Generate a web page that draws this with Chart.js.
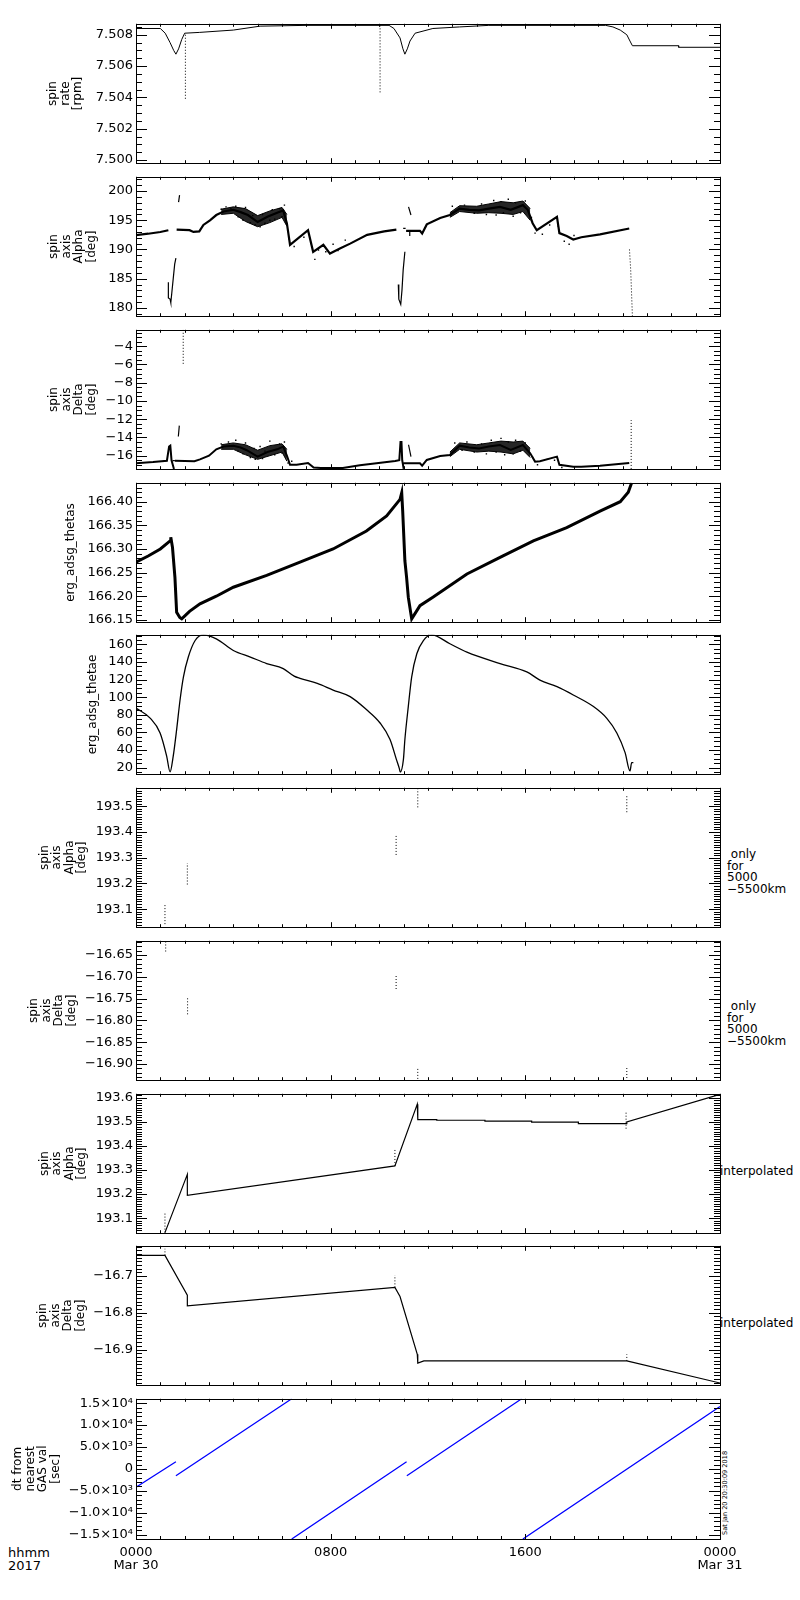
<!DOCTYPE html>
<html>
<head>
<meta charset="utf-8">
<script src="https://cdn.jsdelivr.net/npm/chart.js@4/dist/chart.umd.min.js"></script>
<style>
  body { margin: 0; background: #fff; width: 800px; height: 1600px; position: relative; font-family: "DejaVu Sans", sans-serif; color: #000; }
  canvas { position: absolute; left: 0; }
  .note { position: absolute; font-size: 12px; line-height: 11.7px; white-space: pre; }
  .stamp { position: absolute; font-size: 6.6px; white-space: pre; transform: rotate(-90deg); transform-origin: left top; }
</style>
</head>
<body>
<div class="note" style="left:8px;top:1546px;font-size:13px;line-height:13px">hhmm
2017</div>
<div class="note" style="left:727px;top:849px"> only
for
5000
−5500km</div>
<div class="note" style="left:727px;top:1001px"> only
for
5000
−5500km</div>
<div class="note" style="left:720px;top:1166px">interpolated</div>
<div class="note" style="left:720px;top:1318px">interpolated</div>
<div class="stamp" style="left:721px;top:1535px">Sat Jan 20 20:30:09 2018</div>

<script>
// values, x = hours since 0000 Mar 30 2017

const hourTicks = [0, 8, 16, 24];
const hourLabels = [['0000', 'Mar 30'], '0800', '1600', ['0000', 'Mar 31']];

// spin rate [rpm]
const rateMain = [[0,7.5084],[1.0,7.5084],[1.2,7.5081],[1.4,7.5075],[1.55,7.5070],[1.64,7.50676],[1.75,7.5071],[1.88,7.5077],[2.0,7.5081],
  [2.6,7.50815],[4,7.5083],[5.1,7.50855],[7,7.5086],[10.4,7.5086],[10.6,7.5084],[10.85,7.5078],[10.97,7.5071],[11.05,7.50676],
  [11.15,7.5071],[11.26,7.5076],[11.47,7.5081],[12.2,7.5084],[13.3,7.5085],[14.5,7.5086],[19.3,7.5086],[19.6,7.5085],[19.9,7.5083],
  [20.17,7.5080],[20.3,7.5076],[20.4,7.5073],[22.3,7.5073],[22.3,7.5072],[24,7.5072]];
const rateSpikes = [[[2.03,7.5080],[2.03,7.5039]], [[10.03,7.5086],[10.03,7.5042]]];

// spin axis alpha [deg]
const alphaMain = [
  [[0,192.45],[0.5,192.7],[1.0,193.0],[1.33,193.3]],
  [[1.67,193.4],[2.2,193.3],[2.36,193.0],[2.6,193.1],[2.77,194.2],[3.04,195.0],[3.3,195.9],[3.6,196.5],[4.0,196.8],[4.3,196.4],
   [4.6,195.9],[5.0,194.7],[5.4,195.6],[5.8,196.3],[6.05,196.7],[6.2,194.5],[6.33,190.8],[7.07,193.3],[7.28,189.6],[7.7,190.8],
   [7.97,189.3],[8.4,190.2],[8.8,191.0],[9.5,192.5],[10.2,193.1],[10.7,193.4]],
  [[11.1,193.2],[11.67,193.2],[11.76,192.75],[11.95,194.3],[12.5,195.4],[12.9,195.9],[13.3,197.0],[13.7,196.8],[14.1,196.7],
   [14.5,197.0],[14.96,197.3],[15.4,196.8],[15.9,197.6],[16.1,196.8],[16.3,194.5],[16.47,193.3],[17.3,195.6],[17.4,192.8],
   [17.7,192.3],[17.97,191.7],[18.3,192.1],[19.07,192.6],[20.27,193.6]]
];
// spread of the noisy stretches (upper / lower edge)
const alphaBandHi = [[[3.5,196.9],[4.0,197.3],[4.5,197.0],[5.0,195.8],[5.5,196.6],[6.0,197.2],[6.2,196.0]],
  [[12.9,196.3],[13.3,197.5],[14.0,197.4],[14.5,197.8],[15.0,198.2],[15.5,198.0],[15.9,198.3],[16.2,197.0]]];
const alphaBandLo = [[[3.5,196.0],[4.0,196.2],[4.5,194.8],[5.0,193.9],[5.5,194.6],[6.0,195.5],[6.2,194.0]],
  [[12.9,195.5],[13.3,196.5],[14.0,196.2],[14.5,196.3],[15.0,196.2],[15.5,196.0],[15.9,196.5],[16.2,195.0]]];
const alphaNoise = [[3.5,196.9],[3.7,197.3],[3.9,197.0],[4.1,197.4],[4.2,195.6],[4.4,195.0],[4.5,197.2],[4.7,194.6],[4.8,195.8],
  [4.9,194.2],[5.1,193.9],[5.2,196.0],[5.3,194.5],[5.5,195.0],[5.6,196.8],[5.7,195.2],[5.9,197.0],[6.0,195.6],[6.1,197.6],
  [6.25,193.2],[6.3,191.8],[6.5,190.5],[6.9,192.1],[7.2,191.0],[7.35,188.3],[7.5,189.9],[7.8,189.6],[8.1,190.9],[8.3,189.8],
  [8.6,191.6],[13.0,197.4],[13.5,197.6],[13.9,196.2],[14.2,197.8],[14.4,196.0],[14.7,198.4],[14.8,195.9],[15.0,198.2],
  [15.1,196.3],[15.3,198.6],[15.5,195.7],[15.6,198.0],[15.8,196.3],[16.0,198.3],[16.25,195.5],[16.4,192.8],[16.7,192.6],
  [17.0,194.2],[17.35,194.0],[17.6,191.4],[17.8,190.9],[18.0,192.4]];
const alphaBits = [
  [[1.33,184.4],[1.33,181.7],[1.4,181.5],[1.43,180.9],[1.47,182.5],[1.53,185],[1.59,187.5],[1.64,188.5]],
  [[10.78,184],[10.8,181.5],[10.88,180.6],[10.93,183],[10.98,186.5],[11.05,189.6]],
  [[10.98,193.6],[11.08,193.6]],
  [[1.75,198.1],[1.79,199.3]],
  [[11.2,197.3],[11.3,195.9]],
  [[11.25,193.2],[11.25,192.3]]
];
const alphaTail = [[[20.28,190.0],[20.33,186.5],[20.37,182],[20.4,178.6]]];

// spin axis delta [deg]
const deltaMain = [
  [[0,-16.83],[0.7,-16.7],[1.27,-16.55],[1.36,-15.0],[1.41,-14.9],[1.46,-16.5],[1.56,-17.45]],
  [[1.6,-16.55],[2.4,-16.6],[2.63,-16.4],[3.0,-16.0],[3.3,-15.3],[3.6,-15.0],[4.0,-14.9],[4.3,-15.1],[4.55,-15.4],[5.0,-16.1],
   [5.4,-15.6],[5.8,-15.3],[6.05,-15.0],[6.2,-16.0],[6.33,-17.0],[6.6,-17.0],[7.07,-16.8],[7.3,-17.3],[7.6,-17.35],[8.5,-17.35],
   [9.2,-17.05],[10.65,-16.58],[10.82,-16.5],[10.87,-14.5],[10.91,-14.5],[10.94,-16.5],[11.0,-17.45]],
  [[11.0,-16.83],[11.67,-16.83],[11.76,-17.1],[11.95,-16.47],[12.5,-16.03],[12.9,-15.93],[13.3,-14.9],[13.7,-15.1],[14.1,-15.2],
   [14.5,-15.0],[14.96,-14.83],[15.4,-15.37],[15.9,-14.83],[16.2,-15.74],[16.4,-16.65],[16.6,-16.6],[17.3,-16.1],[17.4,-17.0],
   [17.97,-17.2],[18.3,-17.2],[19.07,-17.1],[20.27,-16.8]]
];
const deltaBandHi = [[[3.5,-14.8],[4.0,-14.6],[4.5,-14.8],[5.0,-15.4],[5.5,-14.9],[6.0,-14.7],[6.2,-15.3]],
  [[12.9,-15.6],[13.3,-14.6],[14.0,-14.8],[14.5,-14.6],[15.0,-14.4],[15.5,-14.5],[15.9,-14.4],[16.2,-15.2]]];
const deltaBandLo = [[[3.5,-15.3],[4.0,-15.3],[4.5,-15.9],[5.0,-16.4],[5.5,-16.0],[6.0,-15.6],[6.2,-16.6]],
  [[12.9,-16.1],[13.3,-15.3],[14.0,-15.6],[14.5,-15.5],[15.0,-15.6],[15.5,-15.8],[15.9,-15.4],[16.2,-16.2]]];
const deltaNoise = [[3.5,-14.7],[3.8,-14.5],[4.1,-14.3],[4.2,-15.5],[4.4,-15.8],[4.5,-14.6],[4.7,-16.2],[4.85,-15.2],[4.9,-16.4],
  [5.1,-15.0],[5.2,-16.3],[5.3,-15.5],[5.5,-14.4],[5.7,-15.9],[5.9,-14.7],[6.0,-15.7],[6.1,-14.5],[6.25,-16.8],[6.4,-16.6],
  [13.1,-14.6],[13.4,-15.4],[13.6,-14.5],[13.9,-15.6],[14.2,-14.7],[14.4,-15.8],[14.6,-14.3],[14.8,-15.6],[15.0,-14.1],
  [15.15,-15.9],[15.3,-14.5],[15.5,-15.8],[15.6,-14.3],[15.8,-15.5],[16.0,-14.6],[16.3,-16.2],[16.5,-17.0],[16.9,-16.4],
  [17.2,-16.5],[17.5,-17.3]];
const deltaBits = [[[1.74,-13.9],[1.78,-12.7]], [[11.2,-14.8],[11.3,-16.1]], [[1.5,-16.55],[1.6,-16.55]]];
const deltaDotted = [[[1.94,-2.2],[1.94,-6.1]], [[20.35,-17.45],[20.35,-12.1]]];

// erg_adsg_thetas
const thetas = [[0,166.272],[0.5,166.285],[1.0,166.30],[1.4,166.317],[1.43,166.325],[1.5,166.303],[1.6,166.24],[1.67,166.166],
  [1.8,166.155],[1.88,166.152],[2.2,166.168],[2.63,166.184],[3.3,166.20],[4,166.219],[5.37,166.244],[6.74,166.272],[8.1,166.30],
  [9.47,166.338],[10.3,166.37],[10.85,166.405],[10.92,166.419],[10.96,166.38],[11.05,166.275],[11.12,166.24],[11.19,166.198],
  [11.33,166.152],[11.67,166.18],[12.2,166.198],[13.6,166.247],[14.96,166.282],[16.33,166.317],[17.7,166.345],[19.07,166.38],
  [19.9,166.40],[20.23,166.42],[20.37,166.44]];

// erg_adsg_thetae
const thetae = [[0,87.6],[0.58,76.3],[0.99,59.4],[1.26,33.1],[1.4,15.1],[1.53,33],[1.67,63.2],[1.81,96.9],[1.95,123.2],[2.15,145.7],
  [2.43,164.5],[2.77,170.9],[3.3,166.4],[4,153.2],[4.7,145.7],[5.37,138.3],[6.05,132.6],[6.5,124],[6.74,121.5],[7.45,115.7],
  [8.1,108.2],[8.8,100.7],[9.48,85.7],[10.03,70.7],[10.44,51.9],[10.7,29.4],[10.82,19.2],[10.86,15],[10.99,29.4],[11.05,51.9],
  [11.19,89.4],[11.33,123.2],[11.54,149.5],[11.81,164.5],[12.15,170.9],[12.9,160.8],[13.6,151.3],[14.96,138.3],[16.06,128.8],
  [16.6,119.5],[17.3,112],[17.97,102.6],[18.8,89.4],[19.34,76.3],[19.76,59.4],[20.1,37],[20.3,16.2],[20.37,25.6],[20.44,25.6]];

// only for 5000-5500km
const alphaNear = [[[1.19,193.042],[1.19,193.12]], [[2.11,193.196],[2.11,193.279]], [[10.69,193.311],[10.69,193.388]],
  [[11.58,193.496],[11.58,193.567]], [[20.17,193.477],[20.17,193.547]]];
const deltaNear = [[[1.22,-16.642],[1.22,-16.62]], [[2.12,-16.786],[2.12,-16.748]], [[10.69,-16.728],[10.69,-16.695]],
  [[11.58,-16.934],[11.58,-16.911]], [[20.17,-16.932],[20.17,-16.907]]];

// interpolated
const alphaInterp = [[1.19,193.04],[2.11,193.282],[2.11,193.195],[10.64,193.317],[11.56,193.574],[11.58,193.51],[12.36,193.51],
  [12.36,193.507],[14.34,193.507],[14.34,193.503],[16.26,193.503],[16.26,193.499],[18.18,193.499],[18.18,193.493],[20.14,193.493],
  [20.17,193.50],[24,193.615]];
const alphaInterpMarks = [[[1.19,193.04],[1.19,193.12]], [[10.64,193.317],[10.64,193.39]], [[20.14,193.472],[20.14,193.546]]];
const deltaInterp = [[0,-16.644],[1.19,-16.644],[2.11,-16.752],[2.11,-16.781],[10.64,-16.731],[10.85,-16.756],[11.56,-16.913],
  [11.58,-16.937],[11.83,-16.931],[20.17,-16.931],[24,-16.991]];
const deltaInterpMarks = [[[1.19,-16.644],[1.19,-16.626]], [[10.64,-16.731],[10.64,-16.698]], [[20.17,-16.931],[20.17,-16.913]]];

// dt from nearest GAS val [sec]
const dtSegs = [[[0,-4190],[1.64,1620]], [[1.64,-1560],[6.4,16000]], [[6.4,-16000],[11.12,1620]],
  [[11.13,-1560],[15.85,16000]], [[15.9,-16000],[24,14250]]];

// ---------------------------------------------------------------

function segs(list) {
  const out = [];
  list.forEach((s, i) => {
    if (i) out.push({x: s[0][0], y: null});
    s.forEach(p => out.push({x: p[0], y: p[1]}));
  });
  return out;
}

function line(list, w, extra) {
  return Object.assign({data: segs(list), borderColor: '#000', borderWidth: w, pointRadius: 0,
    fill: false, tension: 0, spanGaps: false}, extra);
}

function dotted(list) {
  return line(list, 1, {borderDash: [1, 2]});
}

function dots(list) {
  return {data: list.map(p => ({x: p[0], y: p[1]})), showLine: false, pointRadius: 1,
    pointStyle: 'rect', backgroundColor: '#000', borderWidth: 0};
}

// filled spread between an upper and a lower edge, one pair per stretch
function band(hi, lo) {
  const out = [];
  hi.forEach((s, i) => {
    out.push(line([s], 1, {fill: '+1', backgroundColor: 'rgba(0,0,0,0.85)'}));
    out.push(line([lo[i]], 1));
  });
  return out;
}

const minus = s => s.replace('-', '\u2212');
const sup = {'3': '\u00b3', '4': '\u2074'};
function sci(v) {
  if (v === 0) return '0';
  const e = Math.floor(Math.log10(Math.abs(v)) + 1e-9);
  const m = (Math.abs(v) / Math.pow(10, e)).toFixed(1);
  return (v < 0 ? '\u2212' : '') + m + '\u00d710' + sup[e];
}

const panels = [
  {title: ['spin', 'rate', '[rpm]'], tp: 46.7, min: 7.4998, max: 7.5087, step: 0.002, minor: 0.0005,
   fmt: v => v.toFixed(3), sets: [line([rateMain], 1), dotted(rateSpikes)]},
  {title: ['spin', 'axis', 'Alpha', '[deg]'], tp: 47.7, min: 178.57, max: 202.45, step: 5, minor: 1,
   fmt: v => v.toFixed(0),
   sets: [...band(alphaBandHi, alphaBandLo), line(alphaMain, 2.2), dots(alphaNoise), line(alphaBits, 1.2), dotted(alphaTail)]},
  {title: ['spin', 'axis', 'Delta', '[deg]'], tp: 47.7, min: -17.48, max: -2.2, step: 2, minor: 0.5,
   fmt: v => minus(v.toFixed(0)),
   sets: [...band(deltaBandHi, deltaBandLo), line(deltaMain, 2.0), dots(deltaNoise), line(deltaBits, 1.2), dotted(deltaDotted)]},
  {title: 'erg_adsg_thetas', tp: 64.7, min: 166.145, max: 166.44, step: 0.05, minor: 0.01,
   fmt: v => v.toFixed(2), sets: [line([thetas], 3)]},
  {title: 'erg_adsg_thetae', tp: 86.7, min: 12.5, max: 171, step: 20, minor: 5,
   fmt: v => v.toFixed(0), sets: [line([thetae], 1.3, {cubicInterpolationMode: 'monotone'})]},
  {title: ['spin', 'axis', 'Alpha', '[deg]'], tp: 38.2, min: 193.03, max: 193.572, step: 0.1, minor: 0.01,
   fmt: v => v.toFixed(1), sets: [dotted(alphaNear)]},
  {title: ['spin', 'axis', 'Delta', '[deg]'], tp: 27.7, min: -16.937, max: -16.6175, step: 0.05, minor: 0.01,
   fmt: v => minus(v.toFixed(2)), sets: [dotted(deltaNear)]},
  {title: ['spin', 'axis', 'Alpha', '[deg]'], tp: 38.2, min: 193.0375, max: 193.617, step: 0.1, minor: 0.01,
   fmt: v => v.toFixed(1), sets: [line([alphaInterp], 1.2), dotted(alphaInterpMarks)]},
  {title: ['spin', 'axis', 'Delta', '[deg]'], tp: 36.7, min: -16.997, max: -16.618, step: 0.1, minor: 0.01,
   fmt: v => minus(v.toFixed(1)), sets: [line([deltaInterp], 1.2), dotted(deltaInterpMarks)]},
  {title: ['dt from', 'nearest', 'GAS val', '[sec]'], tp: 11.7, min: -16000, max: 16000, step: 5000, minor: 1000,
   fmt: sci, sets: [line(dtSegs, 1.3, {borderColor: '#0000ff'})]}
];

const panelTops = [23, 176, 329, 482, 634, 787, 940, 1093, 1245, 1398];
const panelHeight = 141;

// major y ticks at whole multiples of the step inside the range
function stepTicks(scale, step) {
  const n0 = Math.ceil(scale.min / step - 1e-6), n1 = Math.floor(scale.max / step + 1e-6);
  const out = [];
  for (let n = n0; n <= n1; n++) out.push({value: +(n * step).toPrecision(12)});
  scale.ticks = out;
}

// inward IDL style ticks on all four sides plus the frame
const idlAxes = {
  id: 'idlAxes',
  afterDatasetsDraw(chart, args, opts) {
    const {ctx, chartArea: a, scales: {x, y}} = chart;
    const px = v => Math.round(v) + 0.5;
    ctx.save();
    ctx.strokeStyle = '#000';
    ctx.lineWidth = 1;
    ctx.beginPath();
    y.ticks.forEach(t => {
      const py = px(y.getPixelForValue(t.value));
      ctx.moveTo(a.left, py); ctx.lineTo(a.left + 11, py);
      ctx.moveTo(a.right, py); ctx.lineTo(a.right - 11, py);
    });
    const n0 = Math.ceil(y.min / opts.minor - 1e-6), n1 = Math.floor(y.max / opts.minor + 1e-6);
    for (let n = n0; n <= n1; n++) {
      const py = px(y.getPixelForValue(n * opts.minor));
      ctx.moveTo(a.left, py); ctx.lineTo(a.left + 6, py);
      ctx.moveTo(a.right, py); ctx.lineTo(a.right - 6, py);
    }
    for (let h = 0; h <= 24; h++) {
      const len = h % 8 === 0 ? 5 : 3;
      const xx = px(x.getPixelForValue(h));
      ctx.moveTo(xx, a.top); ctx.lineTo(xx, a.top + len);
      ctx.moveTo(xx, a.bottom); ctx.lineTo(xx, a.bottom - len);
    }
    ctx.stroke();
    ctx.strokeRect(px(a.left), px(a.top), Math.round(a.right - a.left), Math.round(a.bottom - a.top));
    ctx.restore();
  }
};

Chart.defaults.font.family = '"DejaVu Sans", sans-serif';
Chart.defaults.color = '#000';

panels.forEach((p, i) => {
  const last = i === panels.length - 1;
  const cv = document.createElement('canvas');
  const h = panelHeight + 20 + (last ? 40 : 0);
  cv.width = 800; cv.height = h;
  cv.style.width = '800px'; cv.style.height = h + 'px';
  cv.style.top = (panelTops[i] - 10) + 'px';
  document.body.appendChild(cv);

  new Chart(cv, {
    type: 'line',
    data: {datasets: p.sets},
    plugins: [idlAxes],
    options: {
      responsive: false,
      animation: false,
      devicePixelRatio: 1,
      layout: {padding: {left: 0, right: 80, top: 10, bottom: 10}},
      plugins: {legend: {display: false}, tooltip: {enabled: false}, idlAxes: {minor: p.minor}},
      scales: {
        x: {
          type: 'linear', min: 0, max: 24, display: last,
          grid: {display: false, drawTicks: false}, border: {display: false},
          ticks: {stepSize: 8, autoSkip: false, maxRotation: 0, padding: 7, font: {size: 13, lineHeight: 1.0},
            callback: v => hourLabels[hourTicks.indexOf(v)]},
          afterFit: s => { if (last) s.height = 40; }
        },
        y: {
          type: 'linear', min: p.min, max: p.max,
          grid: {display: false, drawTicks: false}, border: {display: false},
          ticks: {autoSkip: false, padding: 3, font: {size: 13}, callback: p.fmt},
          afterBuildTicks: s => stepTicks(s, p.step),
          title: {display: true, text: p.title, font: {size: 12, lineHeight: 1.05}, padding: {top: p.tp, bottom: 0}},
          afterFit: s => { s.width = 136; }
        }
      }
    }
  });
});
</script>
</body>
</html>
